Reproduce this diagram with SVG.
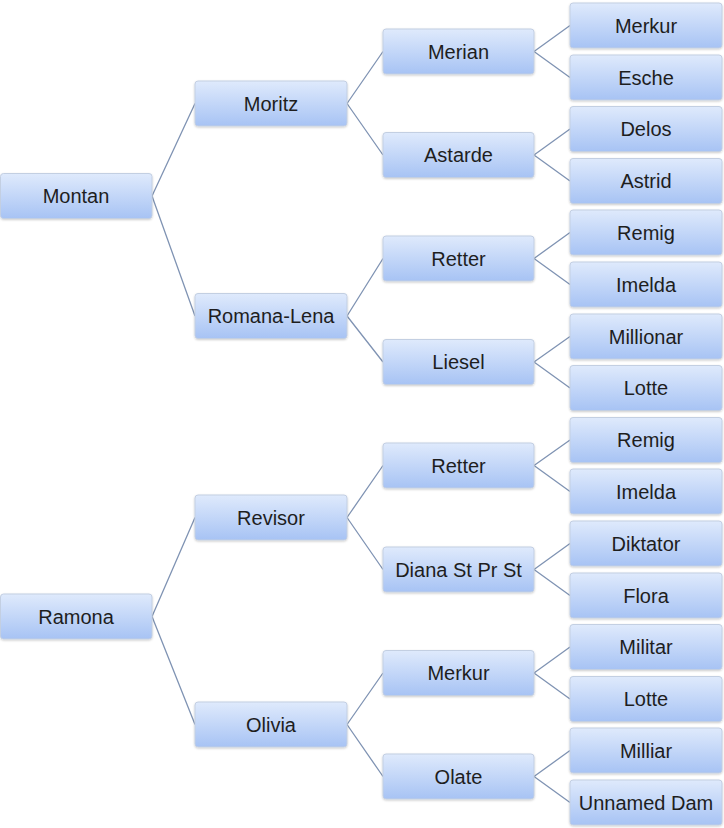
<svg xmlns="http://www.w3.org/2000/svg" width="724" height="828" viewBox="0 0 724 828">
<defs>
<linearGradient id="g" x1="0" y1="0" x2="0" y2="1">
<stop offset="0" stop-color="#dfeafc"/>
<stop offset="1" stop-color="#a7c3f4"/>
</linearGradient>
<filter id="sh" x="-5%" y="-10%" width="110%" height="130%">
<feDropShadow dx="0" dy="1" stdDeviation="1" flood-color="#000" flood-opacity="0.2"/>
</filter>
<style>
.b{fill:url(#g);stroke:#c3cfe2;stroke-width:1;filter:url(#sh)}
.t{font-family:"Liberation Sans",Arial,sans-serif;font-size:20px;fill:#1e1e1e;text-anchor:middle}
.c{stroke:#7f93b3;stroke-width:1.3;fill:none}
</style>
</defs>
<rect width="724" height="828" fill="#fff"/>
<g id="connectors" class="c">
<path d="M152 196L195 103.5M152 196L195 316"/>
<path d="M152 616.5L195 517.5M152 616.5L195 724.5"/>
<path d="M347 103.5L383 51.5M347 103.5L383 155"/>
<path d="M347 316L383 258.5M347 316L383 362"/>
<path d="M347 517.5L383 465.5M347 517.5L383 569.5"/>
<path d="M347 724.5L383 673M347 724.5L383 776.5"/>
<path d="M534 51.5L570 25.5M534 51.5L570 77.5"/>
<path d="M534 155L570 129M534 155L570 181"/>
<path d="M534 258.5L570 232.5M534 258.5L570 284.5"/>
<path d="M534 362L570 336.5M534 362L570 388"/>
<path d="M534 465.5L570 440M534 465.5L570 491.5"/>
<path d="M534 569.5L570 543.5M534 569.5L570 595.5"/>
<path d="M534 673L570 647M534 673L570 699"/>
<path d="M534 776.5L570 750.5M534 776.5L570 802.5"/>
</g>
<g id="n-montan"><rect class="b" x="0.5" y="173.5" width="151.5" height="45" rx="3"/><text class="t" x="76" y="203">Montan</text></g>
<g id="n-ramona"><rect class="b" x="0.5" y="594" width="151.5" height="45" rx="3"/><text class="t" x="76" y="623.5">Ramona</text></g>
<g id="n-moritz"><rect class="b" x="195" y="81" width="152" height="45" rx="3"/><text class="t" x="271" y="110.5">Moritz</text></g>
<g id="n-romana-lena"><rect class="b" x="195" y="293.5" width="152" height="45" rx="3"/><text class="t" x="271" y="323">Romana-Lena</text></g>
<g id="n-revisor"><rect class="b" x="195" y="495" width="152" height="45" rx="3"/><text class="t" x="271" y="524.5">Revisor</text></g>
<g id="n-olivia"><rect class="b" x="195" y="702" width="152" height="45" rx="3"/><text class="t" x="271" y="731.5">Olivia</text></g>
<g id="n-merian"><rect class="b" x="383" y="29" width="151" height="45" rx="3"/><text class="t" x="458.5" y="58.5">Merian</text></g>
<g id="n-astarde"><rect class="b" x="383" y="132.5" width="151" height="45" rx="3"/><text class="t" x="458.5" y="162">Astarde</text></g>
<g id="n-retter1"><rect class="b" x="383" y="236" width="151" height="45" rx="3"/><text class="t" x="458.5" y="265.5">Retter</text></g>
<g id="n-liesel"><rect class="b" x="383" y="339.5" width="151" height="45" rx="3"/><text class="t" x="458.5" y="369">Liesel</text></g>
<g id="n-retter2"><rect class="b" x="383" y="443" width="151" height="45" rx="3"/><text class="t" x="458.5" y="472.5">Retter</text></g>
<g id="n-diana"><rect class="b" x="383" y="547" width="151" height="45" rx="3"/><text class="t" x="458.5" y="576.5">Diana St Pr St</text></g>
<g id="n-merkur2"><rect class="b" x="383" y="650.5" width="151" height="45" rx="3"/><text class="t" x="458.5" y="680">Merkur</text></g>
<g id="n-olate"><rect class="b" x="383" y="754" width="151" height="45" rx="3"/><text class="t" x="458.5" y="783.5">Olate</text></g>
<g id="n-merkur1"><rect class="b" x="570" y="3" width="152" height="45" rx="3"/><text class="t" x="646" y="32.5">Merkur</text></g>
<g id="n-esche"><rect class="b" x="570" y="55" width="152" height="45" rx="3"/><text class="t" x="646" y="84.5">Esche</text></g>
<g id="n-delos"><rect class="b" x="570" y="106.5" width="152" height="45" rx="3"/><text class="t" x="646" y="136">Delos</text></g>
<g id="n-astrid"><rect class="b" x="570" y="158.5" width="152" height="45" rx="3"/><text class="t" x="646" y="188">Astrid</text></g>
<g id="n-remig1"><rect class="b" x="570" y="210" width="152" height="45" rx="3"/><text class="t" x="646" y="239.5">Remig</text></g>
<g id="n-imelda1"><rect class="b" x="570" y="262" width="152" height="45" rx="3"/><text class="t" x="646" y="291.5">Imelda</text></g>
<g id="n-millionar"><rect class="b" x="570" y="314" width="152" height="45" rx="3"/><text class="t" x="646" y="343.5">Millionar</text></g>
<g id="n-lotte1"><rect class="b" x="570" y="365.5" width="152" height="45" rx="3"/><text class="t" x="646" y="395">Lotte</text></g>
<g id="n-remig2"><rect class="b" x="570" y="417.5" width="152" height="45" rx="3"/><text class="t" x="646" y="447">Remig</text></g>
<g id="n-imelda2"><rect class="b" x="570" y="469" width="152" height="45" rx="3"/><text class="t" x="646" y="498.5">Imelda</text></g>
<g id="n-diktator"><rect class="b" x="570" y="521" width="152" height="45" rx="3"/><text class="t" x="646" y="550.5">Diktator</text></g>
<g id="n-flora"><rect class="b" x="570" y="573" width="152" height="45" rx="3"/><text class="t" x="646" y="602.5">Flora</text></g>
<g id="n-militar"><rect class="b" x="570" y="624.5" width="152" height="45" rx="3"/><text class="t" x="646" y="654">Militar</text></g>
<g id="n-lotte2"><rect class="b" x="570" y="676.5" width="152" height="45" rx="3"/><text class="t" x="646" y="706">Lotte</text></g>
<g id="n-milliar"><rect class="b" x="570" y="728" width="152" height="45" rx="3"/><text class="t" x="646" y="757.5">Milliar</text></g>
<g id="n-unnamed"><rect class="b" x="570" y="780" width="152" height="45" rx="3"/><text class="t" x="646" y="809.5">Unnamed Dam</text></g>
</svg>
